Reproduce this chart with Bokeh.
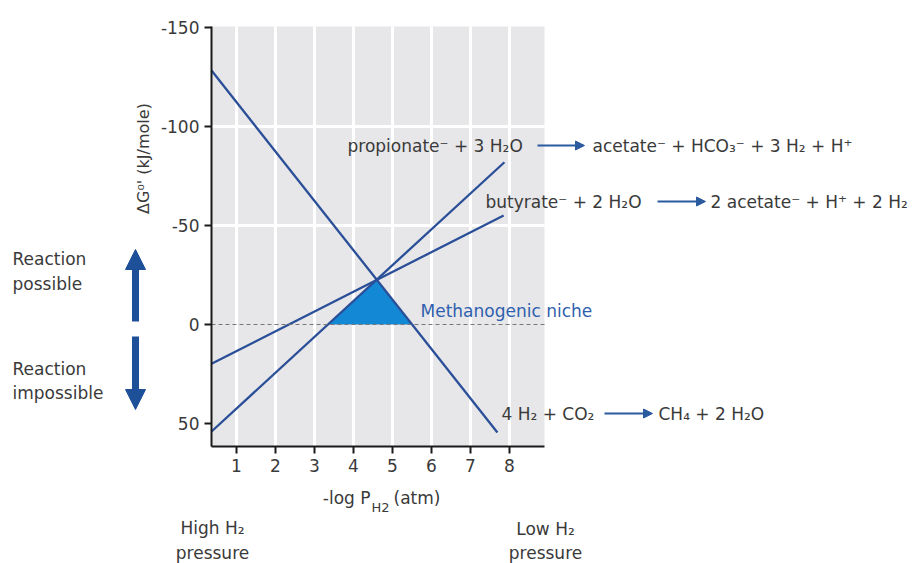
import math
from bokeh.plotting import figure
from bokeh.models import (Range1d, FixedTicker, Label, Arrow, NormalHead,
                          BoxAnnotation, Grid)
from bokeh.embed import file_html
from bokeh.resources import INLINE

# ---------------- data ----------------
x_ticks = [1, 2, 3, 4, 5, 6, 7, 8]
y_ticks = [-150, -100, -50, 0, 50]
y_tick_labels = ["-150", "-100", "-50", "0", "50"]
y_grid = [-100, -50]

# 4 H2 + CO2 -> CH4 + 2 H2O
co2_x = [0.36, 7.69]
co2_y = [-128.0, 54.8]
# propionate- + 3 H2O -> acetate- + HCO3- + 3 H2 + H+
prop_x = [0.36, 7.87]
prop_y = [54.3, -81.7]
# butyrate- + 2 H2O -> 2 acetate- + H+ + 2 H2
but_x = [0.36, 7.85]
but_y = [20.1, -54.8]
# methanogenic niche triangle
niche_x = [3.36, 4.60, 5.49]
niche_y = [0.0, -22.4, 0.0]

# ---------------- layout (page pixels) ----------------
W, H = 912, 563
PX_X0, PX_PER_X = 197.0, 39.0      # pixel of x=0, pixels per unit
PX_Y0, PX_PER_Y = 323.5, 1.98      # pixel of y=0, pixels per kJ


def dx(px):
    return (px - PX_X0) / PX_PER_X


def dy(py):
    return (py - PX_Y0) / PX_PER_Y


X0, X1 = dx(211), dx(544)
Y_TOP, Y_BOT = dy(26), dy(446)

FONT = "DejaVu Sans"
FS = "17px"
TXT = "#3a3a3a"
LINE = "#2a4f98"
ARROW = "#2b5a9f"

p = figure(width=W, height=H, output_backend="svg", toolbar_location=None,
           x_range=Range1d(dx(0), dx(W)), y_range=Range1d(dy(H), dy(0)),
           min_border=0)
p.outline_line_color = None
p.background_fill_color = "white"
p.border_fill_color = "white"

# plot area background
p.add_layout(BoxAnnotation(left=X0, right=X1, top=Y_TOP, bottom=Y_BOT,
                           fill_color="#e7e7e9", fill_alpha=1.0,
                           line_color=None, level="image"))

# axes placed at the plot-area edges
p.xaxis.fixed_location = Y_BOT
p.yaxis.fixed_location = X0
p.xaxis.bounds = (X0, X1)
p.yaxis.bounds = (Y_TOP, Y_BOT)
for ax in (p.xaxis[0], p.yaxis[0]):
    ax.axis_line_color = "#1a1a1a"
    ax.axis_line_width = 2
    ax.major_tick_line_color = "#1a1a1a"
    ax.major_tick_line_width = 2
    ax.major_tick_out = 7
    ax.major_tick_in = 0
    ax.minor_tick_line_color = None
    ax.major_label_text_font = FONT
    ax.major_label_text_font_size = FS
    ax.major_label_text_color = TXT
p.xaxis.ticker = FixedTicker(ticks=x_ticks)
p.yaxis.ticker = FixedTicker(ticks=y_ticks)
p.yaxis.major_label_overrides = {t: s for t, s in zip(y_ticks, y_tick_labels)}
p.xaxis.major_label_standoff = 5
p.yaxis.major_label_standoff = 5

# grid
p.xgrid.ticker = FixedTicker(ticks=x_ticks)
p.ygrid.ticker = FixedTicker(ticks=y_grid)
p.xgrid.cross_bounds = (Y_TOP, Y_BOT)
p.ygrid.cross_bounds = (X0, X1)
p.xgrid.grid_line_color = "white"
p.ygrid.grid_line_color = "white"
p.xgrid.grid_line_width = 3
p.ygrid.grid_line_width = 3

# zero line
p.add_layout(Grid(dimension=1, ticker=FixedTicker(ticks=[0]),
                  cross_bounds=(X0, X1), grid_line_color="#777777",
                  grid_line_dash="4 3", grid_line_width=1, level="glyph"))

# niche
p.patch(niche_x, niche_y, fill_color="#1389d6", line_color="#1389d6", line_width=1)

# lines
p.line(co2_x, co2_y, line_color=LINE, line_width=2.3)
p.line(prop_x, prop_y, line_color=LINE, line_width=2.3)
p.line(but_x, but_y, line_color=LINE, line_width=2.3)


def label(px, py, text, size=FS, color=TXT, align="left", angle=0.0):
    p.add_layout(Label(x=dx(px), y=dy(py), text=text, text_font=FONT,
                       text_font_size=size, text_color=color, text_align=align,
                       text_baseline="middle", angle=angle))


def arrow(px0, px1, py0, py1, width, size, color):
    p.add_layout(Arrow(x_start=dx(px0), x_end=dx(px1), y_start=dy(py0), y_end=dy(py1),
                       line_color=color, line_width=width,
                       end=NormalHead(size=size, fill_color=color, line_color=color,
                                      line_width=1)))


# reaction texts
label(347, 145, "propionate⁻ + 3 H₂O")
arrow(537, 584, 145, 145, 2, 9, ARROW)
label(592, 145, "acetate⁻ + HCO₃⁻ + 3 H₂ + H⁺")

label(485, 201, "butyrate⁻ + 2 H₂O")
arrow(657, 705, 201, 201, 2, 9, ARROW)
label(710, 201, "2 acetate⁻ + H⁺ + 2 H₂")

label(501, 413, "4 H₂ + CO₂")
arrow(604, 652, 413, 413, 2, 9, ARROW)
label(658, 413, "CH₄ + 2 H₂O")

label(420, 310, "Methanogenic niche", color="#2f5fae")

# left side
label(12, 258, "Reaction")
label(12, 283, "possible")
label(12, 368, "Reaction")
label(12, 392, "impossible")
arrow(135, 135, 321, 249, 7, 20, "#1e4f99")
arrow(135, 135, 336, 409, 7, 20, "#1e4f99")

# y axis title
label(143, 158, "ΔG⁰' (kJ/mole)", size="16px", align="center", angle=math.pi / 2)

# x axis title
label(370, 497, "-log P", align="right")
label(371, 507, "H2", size="13px")
label(393, 497, "(atm)")

# pressure notes
label(212, 527, "High H₂", align="center")
label(212, 552, "pressure", align="center")
label(545, 528, "Low H₂", align="center")
label(545, 552, "pressure", align="center")

open("out.html", "w").write(file_html(p, INLINE))
